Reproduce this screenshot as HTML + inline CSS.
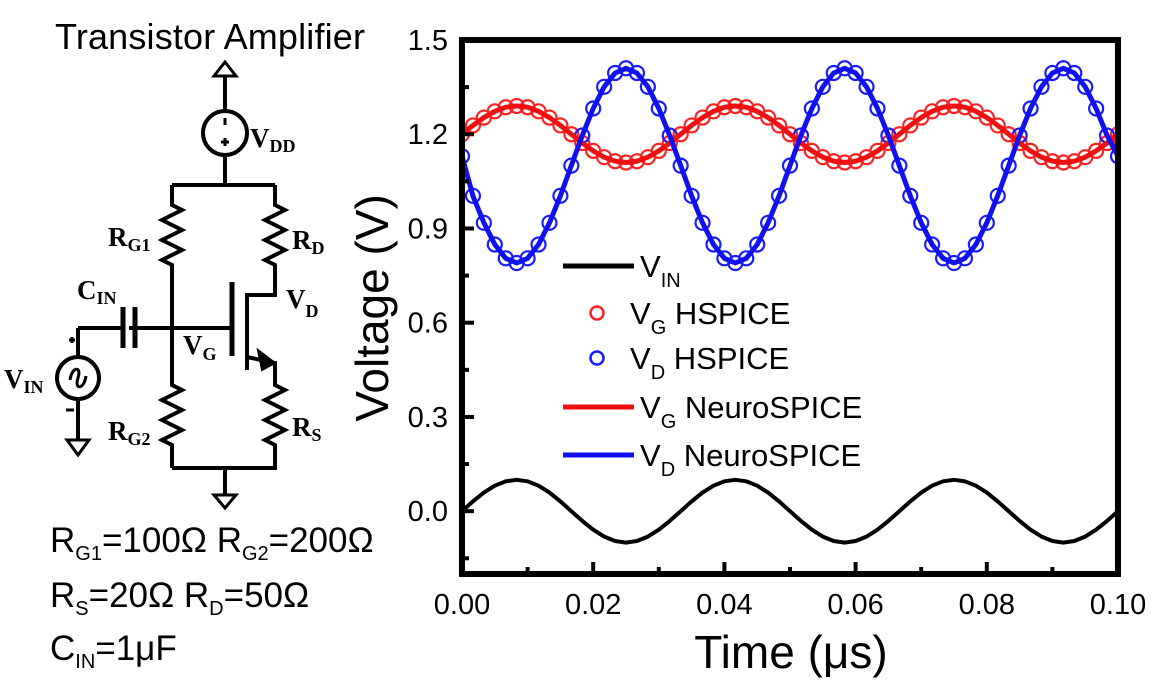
<!DOCTYPE html>
<html><head><meta charset="utf-8">
<style>
html,body{margin:0;padding:0;background:#fff;}
svg{display:block;font-family:"Liberation Sans",sans-serif;}
.ser{font-family:"Liberation Serif",serif;font-weight:bold;}
</style></head>
<body>
<svg id="fig" width="1169" height="683" viewBox="0 0 1169 683">
<g stroke="#000" stroke-width="4" fill="none">
  <path d="M225,112 V76"/>
  <path d="M214,76 L225,62 L236,76 Z" stroke-width="3"/>
  <circle cx="225" cy="133" r="22"/>
  <path d="M225,155 V185 M172,185 H275"/>
  <path d="M172,185 V205 l10,5 -20,10 20,10 -20,10 20,10 -20,10 10,5 V385 l10,5 -20,10 20,10 -20,10 20,10 -20,10 10,5 V468"/>
  <path d="M275,185 V205 l10,5 -20,10 20,10 -20,10 20,10 -20,10 10,5 V295 H247 V370"/>
  <path d="M232,282 V356" stroke-width="5"/>
  <path d="M129,328 H232 M78,328 H123"/>
  <path d="M123,307 V348 M135,307 V348" stroke-width="5"/>
  <path d="M247,357 L275,363 V385 l10,5 -20,10 20,10 -20,10 20,10 -20,10 10,5 V468 H172"/>
  <path d="M258,350 L275,363 L262,370 Z" fill="#000" stroke-width="2"/>
  <path d="M225,468 V495"/>
  <path d="M214,495 L225,508 L236,495 Z" stroke-width="3"/>
  <path d="M78,328 V357 M78,399 V440"/>
  <circle cx="78" cy="378" r="21"/>
  <path d="M70,380 c2,-14 12,-14 8,-2 c-4,12 6,12 8,-2" stroke-width="3"/>
  <path d="M67,440 L78,455 L89,440 Z" stroke-width="3"/>
  <path d="M225,118 V125 M221,142 H229 M225,138 V146 M69,340 H75 M72,337 V343 M66,410 H74" stroke-width="3"/>
</g>
<g fill="#000">
  <text x="210" y="49" font-size="36" text-anchor="middle" textLength="310">Transistor Amplifier</text>
  <text class="ser" x="250" y="147" font-size="27">V<tspan font-size="18" dy="5">DD</tspan></text>
  <text class="ser" x="108" y="246" font-size="27">R<tspan font-size="18" dy="5">G1</tspan></text>
  <text class="ser" x="292" y="249" font-size="27">R<tspan font-size="18" dy="5">D</tspan></text>
  <text class="ser" x="77" y="299" font-size="27">C<tspan font-size="18" dy="5">IN</tspan></text>
  <text class="ser" x="286" y="308" font-size="27">V<tspan font-size="18" dy="9">D</tspan></text>
  <text class="ser" x="183" y="354" font-size="27">V<tspan font-size="18" dy="6">G</tspan></text>
  <text class="ser" x="4" y="388" font-size="27">V<tspan font-size="18" dy="5">IN</tspan></text>
  <text class="ser" x="108" y="440" font-size="27">R<tspan font-size="18" dy="5">G2</tspan></text>
  <text class="ser" x="292" y="436" font-size="27">R<tspan font-size="18" dy="5">S</tspan></text>
  <text x="50" y="552" font-size="35">R<tspan font-size="20" dy="8">G1</tspan><tspan dy="-8">=100Ω  R</tspan><tspan font-size="20" dy="8">G2</tspan><tspan dy="-8">=200Ω</tspan></text>
  <text x="50" y="607" font-size="35">R<tspan font-size="20" dy="8">S</tspan><tspan dy="-8">=20Ω R</tspan><tspan font-size="20" dy="8">D</tspan><tspan dy="-8">=50Ω</tspan></text>
  <text x="50" y="660" font-size="35">C<tspan font-size="20" dy="8">IN</tspan><tspan dy="-8">=1μF</tspan></text>
</g>
<g id="chart"></g>
</svg>
<script>
const timeStep = 0.0016667;
const vinValues = [0,0.031,0.059,0.081,0.095,0.1,0.095,0.081,0.059,0.031,0,-0.031,-0.059,-0.081,-0.095,-0.1,-0.095,-0.081,-0.059,-0.031,
0,0.031,0.059,0.081,0.095,0.1,0.095,0.081,0.059,0.031,0,-0.031,-0.059,-0.081,-0.095,-0.1,-0.095,-0.081,-0.059,-0.031,
0,0.031,0.059,0.081,0.095,0.1,0.095,0.081,0.059,0.031,0,-0.031,-0.059,-0.081,-0.095,-0.1,-0.095,-0.081,-0.059,-0.031,0];
const vgValues = [1.2,1.228,1.253,1.273,1.286,1.29,1.286,1.273,1.253,1.228,1.2,1.172,1.147,1.127,1.114,1.11,1.114,1.127,1.147,1.172,
1.2,1.228,1.253,1.273,1.286,1.29,1.286,1.273,1.253,1.228,1.2,1.172,1.147,1.127,1.114,1.11,1.114,1.127,1.147,1.172,
1.2,1.228,1.253,1.273,1.286,1.29,1.286,1.273,1.253,1.228,1.2,1.172,1.147,1.127,1.114,1.11,1.114,1.127,1.147,1.172,1.2];
const vdValues = [1.13,1.004,0.918,0.849,0.805,0.79,0.805,0.849,0.918,1.004,1.1,1.196,1.282,1.351,1.395,1.41,1.395,1.351,1.282,1.196,
1.1,1.004,0.918,0.849,0.805,0.79,0.805,0.849,0.918,1.004,1.1,1.196,1.282,1.351,1.395,1.41,1.395,1.351,1.282,1.196,
1.1,1.004,0.918,0.849,0.805,0.79,0.805,0.849,0.918,1.004,1.1,1.196,1.282,1.351,1.395,1.41,1.395,1.351,1.282,1.196,1.13];
const xTicks = [0,0.02,0.04,0.06,0.08,0.10];
const xTickLabels = ["0.00","0.02","0.04","0.06","0.08","0.10"];
const yTicks = [0,0.3,0.6,0.9,1.2,1.5];
const yTickLabels = ["0.0","0.3","0.6","0.9","1.2","1.5"];

const NS="http://www.w3.org/2000/svg";
const L=462,R=1118,T=40,B=574,XMIN=0,XMAX=0.1,YMIN=-0.2,YMAX=1.5;
const sx=v=>L+(v-XMIN)/(XMAX-XMIN)*(R-L);
const sy=v=>B-(v-YMIN)/(YMAX-YMIN)*(B-T);
const chart=document.getElementById('chart');
function mk(tag,attrs,parent){const e=document.createElementNS(NS,tag);for(const k in attrs)e.setAttribute(k,attrs[k]);(parent||chart).appendChild(e);return e;}
const tOf=i=>i*timeStep;
function lineD(vals){return vals.map((v,i)=>(i?'L':'M')+sx(Math.min(tOf(i),XMAX)).toFixed(1)+','+sy(v).toFixed(1)).join(' ');}

const clip=mk('clipPath',{id:'pc'});mk('rect',{x:L,y:T,width:R-L,height:B-T},clip);

const mg=mk('g',{'clip-path':'url(#pc)'});


vgValues.forEach((v,i)=>{const c=mk('circle',{cx:sx(tOf(i)),cy:sy(v),r:7,fill:'none',stroke:'#f22','stroke-width':2.2},mg);

});
vdValues.forEach((v,i)=>{const c=mk('circle',{cx:sx(tOf(i)),cy:sy(v),r:7,fill:'none',stroke:'#1a1aff','stroke-width':2.2},mg);

});
const lg=mk('g',{'clip-path':'url(#pc)',fill:'none','stroke-width':5,'stroke-linejoin':'round'});
const l1=mk('path',{d:lineD(vgValues),stroke:'#f01010'},lg);


const l2=mk('path',{d:lineD(vdValues),stroke:'#1010f0'},lg);


const l3=mk('path',{d:lineD(vinValues),stroke:'#000','stroke-width':4},lg);



const fr=mk('rect',{x:L,y:T,width:R-L,height:B-T,fill:'none',stroke:'#000','stroke-width':6});


for(let v=0;v<=0.1001;v+=0.01){const big=Math.round(v*100)%2===0;const t=mk('line',{x1:sx(v),x2:sx(v),y1:B,y2:B-(big?12:7),stroke:'#000','stroke-width':4});

}
for(let v=-0.15;v<=1.5;v+=0.15){const big=Math.abs(Math.round(v/0.15))%2===0;const t=mk('line',{x1:L,x2:L+(big?12:7),y1:sy(v),y2:sy(v),stroke:'#000','stroke-width':4});

}
xTicks.forEach((v,i)=>{const t=mk('text',{x:sx(v),y:614,'font-size':29,'text-anchor':'middle'});t.textContent=xTickLabels[i];

});
yTicks.forEach((v,i)=>{const t=mk('text',{x:448,y:sy(v)+10,'font-size':29,'text-anchor':'end'});t.textContent=yTickLabels[i];

});
const xt=mk('text',{x:791,y:668,'font-size':46,'text-anchor':'middle'});xt.textContent='Time (μs)';


const yt=mk('text',{x:0,y:0,'font-size':46,'text-anchor':'middle',transform:'translate(388,308) rotate(-90)'});yt.textContent='Voltage (V)';



const lgd=mk('g',{});


const entries=[
 {type:'line',color:'#000',y:266,sub:'IN',rest:'',tx:640},
 {type:'circle',color:'#f22',y:313,sub:'G',rest:' HSPICE',tx:630},
 {type:'circle',color:'#1a1aff',y:358,sub:'D',rest:' HSPICE',tx:630},
 {type:'line',color:'#f01010',y:407,sub:'G',rest:' NeuroSPICE',tx:640},
 {type:'line',color:'#1010f0',y:455,sub:'D',rest:' NeuroSPICE',tx:640}];
entries.forEach(e=>{const g=mk('g',{},lgd);
 
 
 if(e.type==='line')mk('line',{x1:563,x2:634,y1:e.y,y2:e.y,stroke:e.color,'stroke-width':5},g);
 else mk('circle',{cx:597,cy:e.y,r:6.5,fill:'none',stroke:e.color,'stroke-width':2.5},g);
 const t=mk('text',{x:e.tx,y:e.y+11,'font-size':31},g);
 t.innerHTML='V<tspan font-size="20" dy="10">'+e.sub+'</tspan><tspan dy="-10">'+e.rest+'</tspan>';});
</script>
</body></html>
